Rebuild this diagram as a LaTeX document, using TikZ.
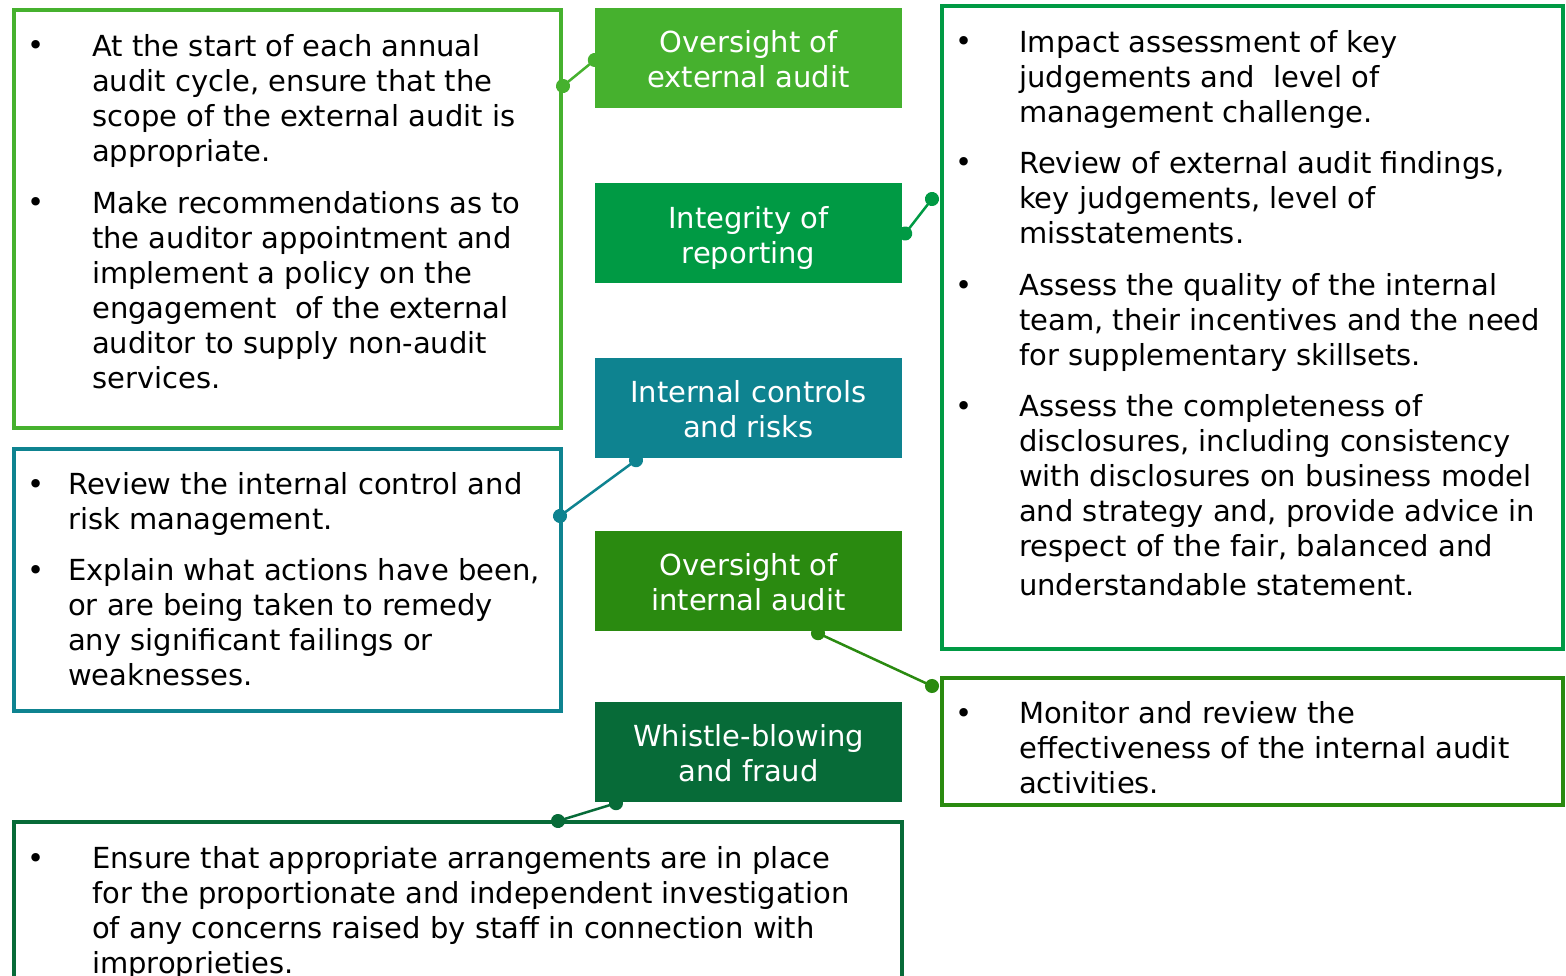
\documentclass[tikz,border=0pt]{standalone}
\usepackage{fontspec}
\setmainfont{DejaVu Sans}
\usetikzlibrary{arrows.meta}
\definecolor{extgreen}{HTML}{46B12E}
\definecolor{repgreen}{HTML}{009A44}
\definecolor{ctrlteal}{HTML}{0E8390}
\definecolor{intgreen}{HTML}{2A8A10}
\definecolor{fraudgreen}{HTML}{076B38}
\newcommand{\bodyfont}{\fontsize{29}{35}\selectfont}
\tikzstyle{panel} = [rectangle, line width=4pt, inner sep=0pt]
\tikzstyle{topic} = [rectangle, minimum width=307pt, minimum height=100pt, inner sep=0pt, text=white, align=center, font=\bodyfont]
\tikzstyle{point} = [anchor=north west, yshift=24.5pt, inner sep=0pt, align=left, font=\bodyfont]
\tikzstyle{dotmark} = [anchor=base, inner sep=0pt, font=\bodyfont]
\tikzstyle{link} = [line width=2.5pt, {Circle[length=14pt]}-{Circle[length=14pt]}, shorten <=-7pt, shorten >=-7pt]

\begin{document}
\begin{tikzpicture}[x=1pt, y=-1pt]
            \useasboundingbox (0,0) rectangle (1566,976);
            \node [panel, draw=extgreen, minimum width=547pt, minimum height=417.5pt] at (287.5,219.25) (extpanel) {};
            \node [panel, draw=ctrlteal, minimum width=547pt, minimum height=262pt] at (287.5,579.5) (ctrlpanel) {};
            \node [panel, draw=fraudgreen, minimum width=888pt, minimum height=180pt] at (458,911.5) (fraudpanel) {};
            \node [panel, draw=repgreen, minimum width=621pt, minimum height=642.5pt] at (1252.5,327.75) (reppanel) {};
            \node [panel, draw=intgreen, minimum width=621pt, minimum height=127pt] at (1252.5,741.5) (intpanel) {};

            \node [topic, fill=extgreen] at (748.5,58) (extaudit) {\strut Oversight of\\\smash{external audit}};
            \node [topic, fill=repgreen] at (748.5,233.5) (reporting) {\strut Integrity of\\\smash{reporting}};
            \node [topic, fill=ctrlteal] at (748.5,408) (controls) {\strut Internal controls\\\smash{and risks}};
            \node [topic, fill=intgreen] at (748.5,581) (intaudit) {\strut Oversight of\\\smash{internal audit}};
            \node [topic, fill=fraudgreen] at (748.5,752) (whistle) {\strut Whistle-blowing\\\smash{and fraud}};

            \node [dotmark] at (36,56) (extdot1) {\textbullet};
            \node [point] at (92,56) (exttext1) {\strut At the start of each annual\\audit cycle, ensure that the\\scope of the external audit is\\appropriate.};
            \node [dotmark] at (36,213) (extdot2) {\textbullet};
            \node [point] at (92,213) (exttext2) {\strut Make recommendations as to\\the auditor appointment and\\implement a policy on the\\engagement\ \ of the external\\auditor to supply non-audit\\services.};

            \node [dotmark] at (36,494) (ctrldot1) {\textbullet};
            \node [point] at (68,494) (ctrltext1) {\strut Review the internal control and\\risk management.};
            \node [dotmark] at (36,580) (ctrldot2) {\textbullet};
            \node [point] at (68,580) (ctrltext2) {\strut Explain what actions have been,\\or are being taken to remedy\\any significant failings or\\weaknesses.};

            \node [dotmark] at (36,868) (frauddot1) {\textbullet};
            \node [point] at (92,868) (fraudtext1) {\strut Ensure that appropriate arrangements are in place\\for the proportionate and independent investigation\\of any concerns raised by staff in connection with\\improprieties.};

            \node [dotmark] at (964,52) (repdot1) {\textbullet};
            \node [point] at (1019,52) (reptext1) {\strut Impact assessment of key\\judgements and\ \ level of\\management challenge.};
            \node [dotmark] at (964,173) (repdot2) {\textbullet};
            \node [point] at (1019,173) (reptext2) {\strut Review of external audit findings,\\key judgements, level of\\misstatements.};
            \node [dotmark] at (964,295) (repdot3) {\textbullet};
            \node [point] at (1019,295) (reptext3) {\strut Assess the quality of the internal\\team, their incentives and the need\\for supplementary skillsets.};
            \node [dotmark] at (964,416) (repdot4) {\textbullet};
            \node [point] at (1019,416) (reptext4) {\strut Assess the completeness of\\disclosures, including consistency\\with disclosures on business model\\and strategy and, provide advice in\\respect of the fair, balanced and\\[4pt]understandable statement.};

            \node [dotmark] at (964,723) (intdot1) {\textbullet};
            \node [point] at (1019,723) (inttext1) {\strut Monitor and review the\\effectiveness of the internal audit\\activities.};

            \draw [link, extgreen] ([yshift=-2pt]extaudit.west) -- ([yshift=-77.5pt]extpanel.north east);
            \draw [link, repgreen] ([xshift=3pt]reporting.east) -- ([xshift=-8pt,yshift=-194.5pt]reppanel.north west);
            \draw [link, ctrlteal] ([xshift=-112.5pt,yshift=-2pt]controls.south) -- ([xshift=-3pt,yshift=-69.5pt]ctrlpanel.north east);
            \draw [link, intgreen] ([xshift=69.5pt,yshift=-2pt]intaudit.south) -- ([xshift=-8pt,yshift=-10pt]intpanel.north west);
            \draw [link, fraudgreen] ([xshift=-132.5pt,yshift=-1pt]whistle.south) -- ([xshift=100pt,yshift=-1.5pt]fraudpanel.north);
\end{tikzpicture}
\end{document}
